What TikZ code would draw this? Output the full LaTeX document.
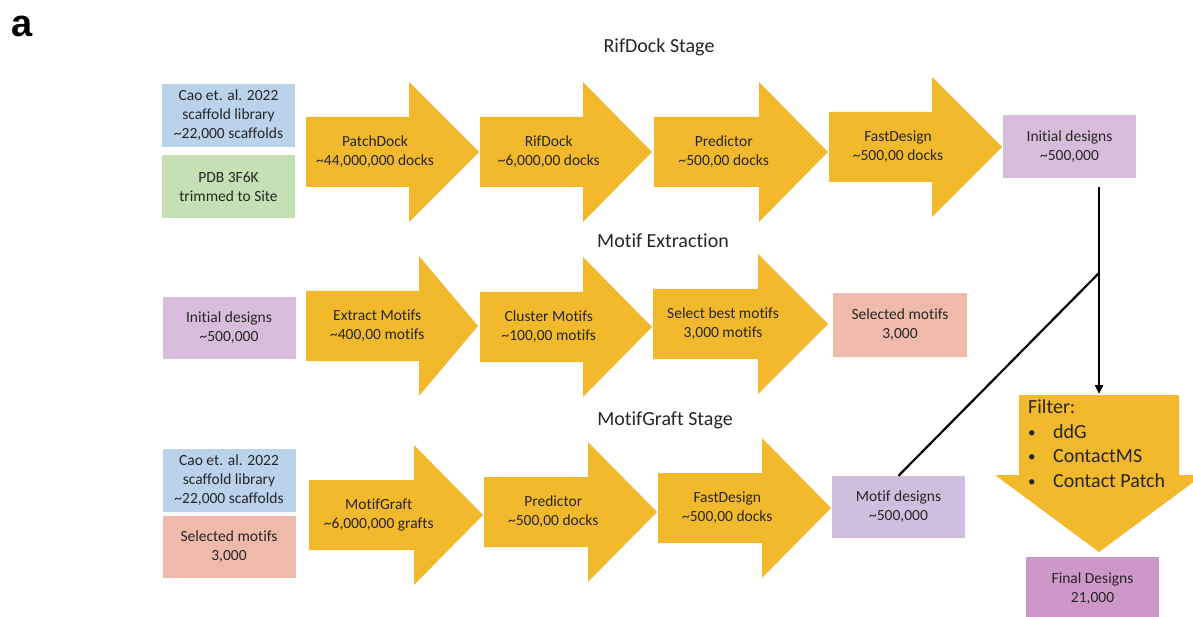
\documentclass[tikz,border=0pt]{standalone}
\usepackage{fontspec}
\setmainfont{Carlito}[Ligatures=NoCommon]
\newfontfamily\panelfont{Liberation Sans}
\usetikzlibrary{arrows.meta}
\definecolor{arrc}{RGB}{243,185,45}
\definecolor{bluec}{RGB}{186,210,234}
\definecolor{greenc}{RGB}{197,224,180}
\definecolor{lavc}{RGB}{216,188,219}
\definecolor{salmc}{RGB}{240,186,170}
\definecolor{motc}{RGB}{208,190,222}
\definecolor{finc}{RGB}{205,152,200}
\definecolor{txtc}{RGB}{38,38,38}
\tikzset{
  arrfill/.style={fill=arrc},
  arrtext/.style={align=center, text=txtc, inner sep=0pt, font=\fontsize{15.5}{19}\selectfont},
  boxnode/.style={minimum width=133pt, minimum height=63pt, inner sep=0pt, align=center, text=txtc, font=\fontsize{15.5}{19}\selectfont},
  title/.style={text=txtc, inner sep=0pt, anchor=base, font=\fontsize{20}{24}\selectfont},
  filtline/.style={text=txtc, inner sep=0pt, anchor=base west, font=\fontsize{20}{24}\selectfont},
  conn/.style={draw=black, line width=2.2pt}
}
% name, x0 (body left), x1 (head start), x2 (tip), cy, body half height, head half height, text
\newcommand{\rarr}[8]{%
  \fill[arrfill] (#2,#5-#6) -- (#3,#5-#6) -- (#3,#5-#7) -- (#4,#5) -- (#3,#5+#7) -- (#3,#5+#6) -- (#2,#5+#6) -- cycle;
  \node[arrtext] (#1) at ({(#2+#3)/2+(#4-#3)/4},#5) {#8};}
\newcommand{\tl}{\textasciitilde}
\newcommand{\bul}{\makebox[25pt][l]{\raisebox{1pt}{\fontsize{15}{15}\selectfont\textbullet}}}
\begin{document}
\begin{tikzpicture}[x=1pt,y=-1pt]
\useasboundingbox (0,0) rectangle (1193,617);
\clip (0,0) rectangle (1193,617);
\fill[white] (0,0) rectangle (1193,617);

% panel label
\node[anchor=base west, inner sep=0pt, font=\panelfont\bfseries\fontsize{38}{40}\selectfont] (lbl) at (11,37) {a};

% titles
\node[title] (t1) at (659,53) {RifDock Stage};
\node[title] (t2) at (663,248) {Motif Extraction};
\node[title] (t3) at (665,425) {MotifGraft Stage};

% row 1
\node[boxnode, fill=bluec] (scaf1) at (228.5,115.5) {Cao et. al. 2022\\scaffold library\\\tl22,000 scaffolds};
\node[boxnode, fill=greenc] (pdb) at (228.5,186.5) {PDB 3F6K\\trimmed to Site};
\rarr{patch}{306}{409}{479}{152}{35}{70}{PatchDock\\\tl44,000,000 docks}
\rarr{rif}{480}{583}{652}{152}{35}{70}{RifDock\\\tl6,000,00 docks}
\rarr{pred1}{654}{759}{828}{152}{35}{70}{Predictor\\\tl500,00 docks}
\rarr{fd1}{829}{932}{1002}{147}{35}{70}{FastDesign\\\tl500,00 docks}
\node[boxnode, fill=lavc] (init1) at (1069.5,146.5) {Initial designs\\\tl500,000};

% row 2
\node[boxnode, fill=lavc, minimum height=62pt] (init2) at (229,328) {Initial designs\\\tl500,000};
\rarr{extr}{306}{419}{478}{326}{35}{70}{Extract Motifs\\\tl400,00 motifs}
\rarr{clus}{480}{583}{652}{327}{35}{70}{Cluster Motifs\\\tl100,00 motifs}
\rarr{sel}{653}{758}{828}{324}{35}{70}{Select best motifs\\3,000 motifs}
\node[boxnode, fill=salmc, minimum width=134pt, minimum height=64pt] (selm1) at (900,325) {Selected motifs\\3,000};

% row 3
\node[boxnode, fill=bluec] (scaf3) at (229,480.5) {Cao et. al. 2022\\scaffold library\\\tl22,000 scaffolds};
\node[boxnode, fill=salmc, minimum height=62pt] (selm3) at (229,547) {Selected motifs\\3,000};
\rarr{graft}{309}{414}{483}{515}{35}{70}{MotifGraft\\\tl6,000,000 grafts}
\rarr{pred3}{484}{588}{657}{512}{35}{70}{Predictor\\\tl500,00 docks}
\rarr{fd3}{658}{762}{831}{508}{35}{70}{FastDesign\\\tl500,00 docks}
\node[boxnode, fill=motc, minimum height=62pt] (mdes) at (898.5,507) {Motif designs\\\tl500,000};

% filter arrow (down)
\fill[arrfill] (1019,395) -- (1179,395) -- (1179,475) -- (1203,475) -- (1099,552) -- (995,475) -- (1019,475) -- cycle;
\coordinate (ftop) at (1099,394);
\node[filtline] (f0) at (1028,413) {Filter:};
\node[filtline] (f1) at (1028,438) {\bul ddG};
\node[filtline] (f2) at (1028,462.5) {\bul ContactMS};
\node[filtline] (f3) at (1028,487) {\bul Contact Patch};

\node[boxnode, fill=finc] (final) at (1092.5,588.5) {Final Designs\\21,000};

% connectors
\coordinate (jn) at (1099,273);
\draw[conn, -{Triangle[length=9pt,width=8pt]}] ([yshift=-9pt]init1.south -| jn) -- (ftop);
\draw[conn] (mdes.north) -- (jn);
\end{tikzpicture}
\end{document}
